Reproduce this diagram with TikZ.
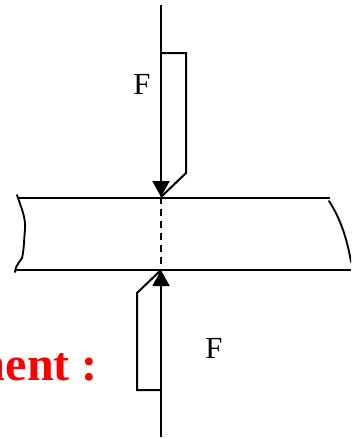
\documentclass[tikz,border=0pt]{standalone}
\usepackage{fontspec}
\setmainfont{Liberation Serif}
\usetikzlibrary{arrows.meta}
\tikzset{
  forcearrow/.style={line width=2.2pt,-{Triangle[length=12pt,width=12.5pt]},shorten >=0pt},
  outline/.style={line width=1.5pt,line join=miter},
  plate/.style={line width=1.5pt},
  edgecut/.style={line width=1.4pt,line cap=round},
  cutline/.style={line width=1.4pt,dash pattern=on 5pt off 4pt},
  forcelabel/.style={inner sep=0pt,font=\fontsize{23pt}{23pt}\selectfont},
  titletext/.style={inner sep=0pt,anchor=base east,text=red,font=\fontsize{36pt}{36pt}\selectfont\bfseries}
}
\begin{document}
\begin{tikzpicture}[x=0.75pt,y=-0.75pt]
\useasboundingbox (0,0) rectangle (351,439);
\clip (0,0) rectangle (351,439);
\coordinate (tt) at (161,5);
\coordinate (tb) at (161,197);
\coordinate (bb) at (161,437);
\coordinate (bt) at (161,270);
\coordinate (ta) at (161,53);
\coordinate (tc) at (186,53);
\coordinate (td) at (186,173);
\coordinate (ba) at (161,390);
\coordinate (bc) at (137,390);
\coordinate (bd) at (137,293);
\draw[plate] (18,197.5) -- (330,197.5);
\draw[plate] (15,269.5) -- (351,269.5);
\draw[edgecut] (17,195) .. controls (21,207) and (26,218) .. (25,229) .. controls (24,240) and (24,250) .. (22,258) .. controls (20,262) and (16,264) .. (15,272);
\draw[edgecut] (329,201) .. controls (340,218) and (347,238) .. (351,262);
\draw[cutline] (tb) -- (bt);
\draw[outline] (ta) -- (tc) -- (td) -- (tb);
\draw[outline] (ba) -- (bc) -- (bd) -- (bt);
\draw[forcearrow] (tt) -- (tb);
\draw[forcearrow] (bb) -- (bt);
\node[forcelabel] (f1) at (142,84) {F};
\node[forcelabel] (f2) at (214,348) {F};
\node[titletext] (t) at (98,380) {ment :};
\end{tikzpicture}
\end{document}
